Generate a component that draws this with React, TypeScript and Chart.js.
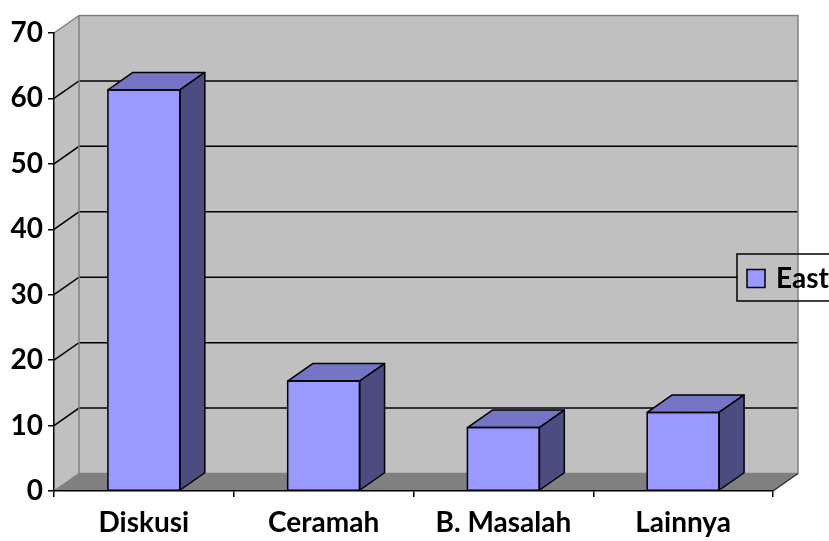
import React, { useEffect, useRef } from "react";
import { Chart, registerables } from "chart.js";

Chart.register(...registerables);

const categories = ["Diskusi", "Ceramah", "B. Masalah", "Lainnya"];
const eastValues = [61.3, 16.8, 9.7, 12.0];
const yTicks = [0, 10, 20, 30, 40, 50, 60, 70];
const seriesName = "East";

const FONT = "Lato, 'Open Sans', sans-serif";
const DX = 25;
const DY = -17.5;
const FRONT = "#9999FF";
const TOP = "#7575C5";
const SIDE = "#4C4C80";
const WALL = "#C0C0C0";
const FLOOR = "#808080";

const threeD = {
  id: "threeD",
  beforeDraw(chart: any) {
    const ctx = chart.ctx;
    const { left, right, top, bottom } = chart.chartArea;
    const ys = chart.scales.y;
    ctx.save();
    ctx.fillStyle = "#FFFFFF";
    ctx.fillRect(0, 0, chart.width, chart.height);
    ctx.fillStyle = WALL;
    ctx.fillRect(left + DX, top + DY, right - left, bottom - top);
    ctx.beginPath();
    ctx.moveTo(left, top);
    ctx.lineTo(left + DX, top + DY);
    ctx.lineTo(left + DX, bottom + DY);
    ctx.lineTo(left, bottom);
    ctx.closePath();
    ctx.fill();
    ctx.fillStyle = FLOOR;
    ctx.beginPath();
    ctx.moveTo(left, bottom);
    ctx.lineTo(left + DX, bottom + DY);
    ctx.lineTo(right + DX, bottom + DY);
    ctx.lineTo(right, bottom);
    ctx.closePath();
    ctx.fill();
    ctx.strokeStyle = "#000";
    ctx.lineWidth = 1.5;
    for (const t of yTicks) {
      if (t <= ys.min || t >= ys.max) continue;
      const py = ys.getPixelForValue(t);
      ctx.beginPath();
      ctx.moveTo(left, py);
      ctx.lineTo(left + DX, py + DY);
      ctx.lineTo(right + DX, py + DY);
      ctx.stroke();
    }
    ctx.strokeStyle = "#808080";
    ctx.lineWidth = 1.5;
    ctx.strokeRect(left + DX, top + DY, right - left, bottom - top);
    ctx.beginPath();
    ctx.moveTo(left, top);
    ctx.lineTo(left + DX, top + DY);
    ctx.moveTo(left, bottom);
    ctx.lineTo(left + DX, bottom + DY);
    ctx.stroke();
    ctx.strokeStyle = "#333";
    ctx.beginPath();
    ctx.moveTo(right, bottom);
    ctx.lineTo(right + DX, bottom + DY);
    ctx.stroke();
    ctx.restore();
  },
  afterDatasetsDraw(chart: any) {
    const ctx = chart.ctx;
    const meta = chart.getDatasetMeta(0);
    ctx.save();
    ctx.lineWidth = 1.5;
    ctx.strokeStyle = "#000";
    ctx.lineJoin = "round";
    for (const el of meta.data) {
      const { x, y, base, width } = el.getProps(["x", "y", "base", "width"], true);
      const l = x - width / 2;
      const r = x + width / 2;
      ctx.fillStyle = TOP;
      ctx.beginPath();
      ctx.moveTo(l, y);
      ctx.lineTo(l + DX, y + DY);
      ctx.lineTo(r + DX, y + DY);
      ctx.lineTo(r, y);
      ctx.closePath();
      ctx.fill();
      ctx.stroke();
      ctx.fillStyle = SIDE;
      ctx.beginPath();
      ctx.moveTo(r, y);
      ctx.lineTo(r + DX, y + DY);
      ctx.lineTo(r + DX, base + DY);
      ctx.lineTo(r, base);
      ctx.closePath();
      ctx.fill();
      ctx.stroke();
      ctx.strokeRect(l, y, width, base - y);
    }
    ctx.restore();
  },
  afterDraw(chart: any) {
    const ctx = chart.ctx;
    const { right } = chart.chartArea;
    const wallRight = right + DX;
    const lx = 737, ly = 254, lw = 110, lh = 47;
    ctx.save();
    ctx.fillStyle = "#FFFFFF";
    ctx.fillRect(lx, ly, lw, lh);
    ctx.fillStyle = WALL;
    ctx.fillRect(lx, ly, wallRight - lx, lh);
    ctx.strokeStyle = "#808080";
    ctx.lineWidth = 1.5;
    ctx.beginPath();
    ctx.moveTo(wallRight, ly);
    ctx.lineTo(wallRight, ly + lh);
    ctx.stroke();
    ctx.strokeStyle = "#000";
    ctx.strokeRect(lx, ly, lw, lh);
    ctx.fillStyle = FRONT;
    ctx.fillRect(747, 269.5, 18, 18);
    ctx.strokeRect(747, 269.5, 18, 18);
    ctx.fillStyle = "#000";
    ctx.font = `bold 28px ${FONT}`;
    ctx.textBaseline = "middle";
    ctx.textAlign = "left";
    ctx.fillText(seriesName, 776, 279);
    ctx.restore();
  },
};

export default function App() {
  const ref = useRef<HTMLCanvasElement | null>(null);
  useEffect(() => {
    if (!ref.current) return;
    const chart = new Chart(ref.current, {
      type: "bar",
      data: {
        labels: categories,
        datasets: [
          {
            label: seriesName,
            data: eastValues,
            backgroundColor: FRONT,
            borderColor: "#000",
            borderWidth: 0,
            categoryPercentage: 0.4,
            barPercentage: 1,
          },
        ],
      },
      options: {
        responsive: false,
        animation: false,
        devicePixelRatio: 1,
        layout: { padding: { left: 0, top: 33, right: 56, bottom: 0 } },
        plugins: { legend: { display: false }, tooltip: { enabled: false } },
        scales: {
          x: {
            ticks: { color: "#000", font: { family: FONT, size: 28, weight: "bold" }, padding: 9 },
            grid: {
              offset: true,
              drawOnChartArea: false,
              drawTicks: true,
              tickLength: 6,
              color: (c: any) => (c.index >= categories.length ? "rgba(0,0,0,0)" : "#000"),
              lineWidth: 1.5,
            },
            border: { display: true, color: "#000", width: 1.5 },
            afterFit: (s: any) => {
              s.height = 50;
            },
          },
          y: {
            min: 0,
            max: 70,
            ticks: { stepSize: 10, color: "#000", font: { family: FONT, size: 28, weight: "bold" }, padding: 5 },
            grid: { drawOnChartArea: false, drawTicks: true, tickLength: 6, color: "#000", lineWidth: 1.5 },
            border: { display: true, color: "#000", width: 1.5 },
            afterBuildTicks: (s: any) => {
              s.ticks = yTicks.map((v) => ({ value: v }));
            },
            afterFit: (s: any) => {
              s.width = 54;
            },
          },
        },
      } as any,
      plugins: [threeD],
    });
    return () => chart.destroy();
  }, []);
  return (
    <div style={{ position: "fixed", left: 0, top: 0, width: 829, height: 541 }}>
      <canvas ref={ref} width={829} height={541} style={{ width: 829, height: 541, display: "block" }} />
    </div>
  );
}
